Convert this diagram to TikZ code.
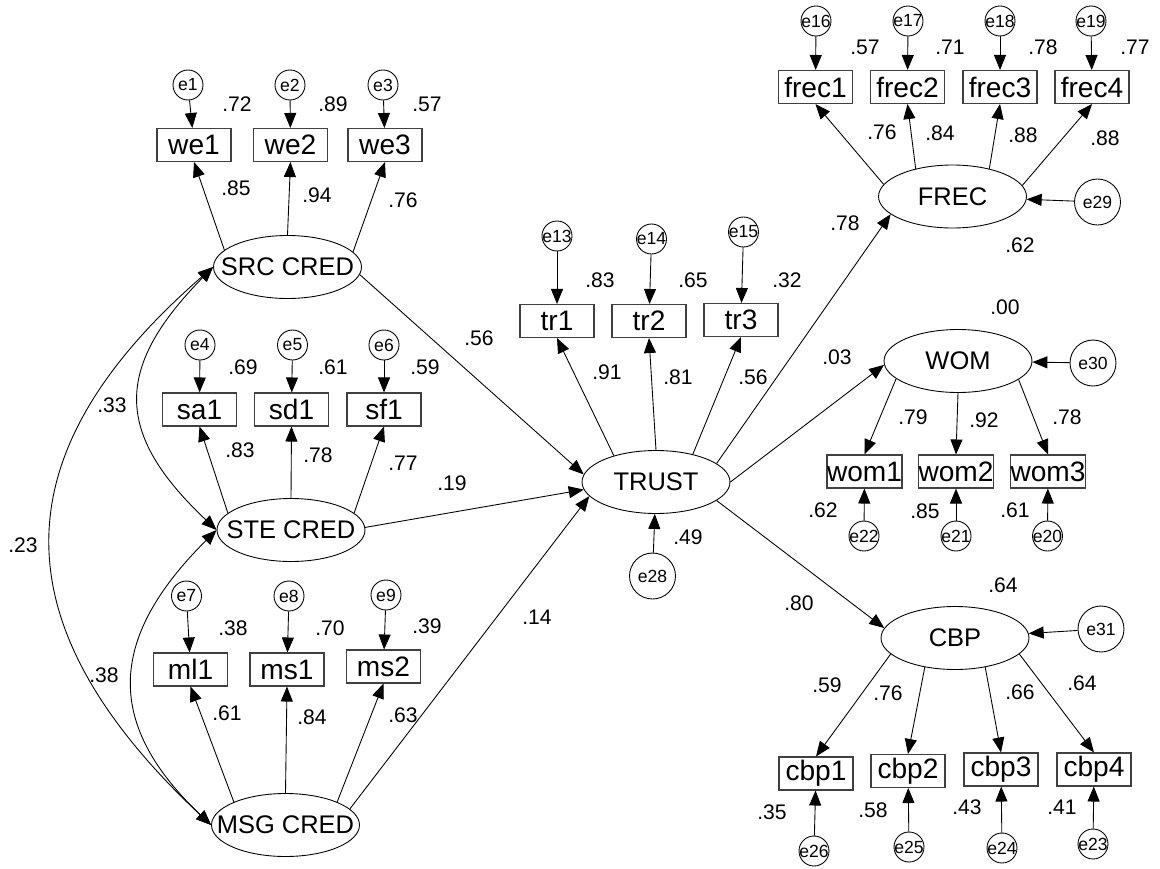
\documentclass[tikz,border=0pt]{standalone}
\usepackage{fontspec}
\setmainfont{Liberation Sans}
\usetikzlibrary{arrows.meta,shapes.geometric}
\definecolor{ink}{HTML}{000000}
\definecolor{boxline}{HTML}{404040}
\tikzset{
  obsbox/.style={rectangle,draw=boxline,line width=0.6pt,minimum width=1.48cm,minimum height=0.66cm,inner sep=0pt,font=\fontsize{16}{18}\selectfont},
  latent/.style={ellipse,draw=ink,line width=0.5pt,minimum width=2.96cm,minimum height=1.26cm,inner xsep=-20pt,inner ysep=0pt,font=\fontsize{14.5}{16}\selectfont},
  errsmall/.style={circle,draw=ink,line width=0.5pt,minimum size=0.6cm,inner sep=-2pt,font=\fontsize{10}{11}\selectfont},
  errbig/.style={errsmall,minimum size=0.92cm},
  coef/.style={inner sep=0pt,font=\fontsize{12}{13}\selectfont,text=ink},
  arrow/.style={-{Triangle[length=3mm,width=2.4mm]},line width=0.5pt,draw=ink},
  covarrow/.style={{Triangle[length=3mm,width=2.4mm]}-{Triangle[length=3mm,width=2.4mm]},line width=0.5pt,draw=ink}
}

\begin{document}
\begin{tikzpicture}[x=0.02cm,y=-0.02cm]
  \useasboundingbox (0,0) rectangle (1160,869);

  % source credibility block
  \node[errsmall] (e1) at (188,85) {e1};
  \node[errsmall] (e2) at (290,85) {e2};
  \node[errsmall] (e3) at (383,85) {e3};
  \node[obsbox] (we1) at (194,145) {we1};
  \node[obsbox] (we2) at (290.5,145) {we2};
  \node[obsbox] (we3) at (385,145) {we3};
  \node[latent] (src) at (287.5,267) {SRC CRED};

  \node[errsmall] (e4) at (200,345) {e4};
  \node[errsmall] (e5) at (292.5,345) {e5};
  \node[errsmall] (e6) at (384,345) {e6};
  \node[obsbox] (sa1) at (199.5,409.5) {sa1};
  \node[obsbox] (sd1) at (291.5,409.5) {sd1};
  \node[obsbox] (sf1) at (384,409.5) {sf1};
  \node[latent] (ste) at (291,530) {STE CRED};

  \node[errsmall] (e7) at (186.5,596) {e7};
  \node[errsmall] (e8) at (289,596) {e8};
  \node[errsmall] (e9) at (386,595) {e9};
  \node[obsbox] (ml1) at (190.5,669.5) {ml1};
  \node[obsbox] (ms1) at (287,669.5) {ms1};
  \node[obsbox] (ms2) at (383.5,666.5) {ms2};
  \node[latent] (msg) at (285.5,825) {MSG CRED};

  % trust block
  \node[errsmall] (e13) at (557,236) {e13};
  \node[errsmall] (e14) at (651.5,239) {e14};
  \node[errsmall] (e15) at (743.5,232) {e15};
  \node[obsbox] (tr1) at (557,321) {tr1};
  \node[obsbox] (tr2) at (649,321) {tr2};
  \node[obsbox] (tr3) at (741,320) {tr3};
  \node[latent] (trust) at (656,482) {TRUST};
  \node[errbig] (e28) at (652.5,576) {e28};

  % outcomes
  \node[errsmall] (e16) at (816,21) {e16};
  \node[errsmall] (e17) at (908,21) {e17};
  \node[errsmall] (e18) at (1000,21) {e18};
  \node[errsmall] (e19) at (1091,21) {e19};
  \node[obsbox] (frec1) at (815.5,87) {frec1};
  \node[obsbox] (frec2) at (907.5,87) {frec2};
  \node[obsbox] (frec3) at (1000,87) {frec3};
  \node[obsbox] (frec4) at (1092,87) {frec4};
  \node[latent] (frec) at (952.5,196.5) {FREC};
  \node[errbig] (e29) at (1097.5,202) {e29};

  \node[latent] (wom) at (958,361) {WOM};
  \node[errbig] (e30) at (1093,363) {e30};
  \node[obsbox] (wom1) at (864.5,471.5) {wom1};
  \node[obsbox] (wom2) at (956,471.5) {wom2};
  \node[obsbox] (wom3) at (1048,471.5) {wom3};
  \node[errsmall] (e22) at (864,536) {e22};
  \node[errsmall] (e21) at (956,536) {e21};
  \node[errsmall] (e20) at (1047.5,536) {e20};

  \node[latent] (cbp) at (955,638) {CBP};
  \node[errbig] (e31) at (1101,629) {e31};
  \node[obsbox] (cbp1) at (816,773.5) {cbp1};
  \node[obsbox] (cbp2) at (908,771) {cbp2};
  \node[obsbox] (cbp3) at (1001,769.5) {cbp3};
  \node[obsbox] (cbp4) at (1094,769.5) {cbp4};
  \node[errsmall] (e26) at (814,851) {e26};
  \node[errsmall] (e25) at (909,847) {e25};
  \node[errsmall] (e24) at (1002,848) {e24};
  \node[errsmall] (e23) at (1093,844) {e23};

  % errors into indicators
  \draw[arrow] (e1) -- (we1);
  \draw[arrow] (e2) -- (we2);
  \draw[arrow] (e3) -- (we3);
  \draw[arrow] (e4) -- (sa1);
  \draw[arrow] (e5) -- (sd1);
  \draw[arrow] (e6) -- (sf1);
  \draw[arrow] (e7) -- (ml1);
  \draw[arrow] (e8) -- (ms1);
  \draw[arrow] (e9) -- (ms2);
  \draw[arrow] (e13) -- (tr1);
  \draw[arrow] (e14) -- (tr2);
  \draw[arrow] (e15) -- (tr3);
  \draw[arrow] (e16) -- (frec1);
  \draw[arrow] (e17) -- (frec2);
  \draw[arrow] (e18) -- (frec3);
  \draw[arrow] (e19) -- (frec4);
  \draw[arrow] (e22) -- (wom1);
  \draw[arrow] (e21) -- (wom2);
  \draw[arrow] (e20) -- (wom3);
  \draw[arrow] (e26) -- (cbp1);
  \draw[arrow] (e25) -- (cbp2);
  \draw[arrow] (e24) -- (cbp3);
  \draw[arrow] (e23) -- (cbp4);
  \draw[arrow] (e28) -- (trust);
  \draw[arrow] (e29) -- (frec);
  \draw[arrow] (e30) -- (wom);
  \draw[arrow] (e31) -- (cbp);

  % loadings
  \draw[arrow] (src.165) -- (we1.south);
  \draw[arrow] (src.90) -- (we2.south);
  \draw[arrow] (src.13) -- (we3.south);
  \draw[arrow] (ste.165) -- (sa1.south);
  \draw[arrow] (ste.90) -- (sd1.south);
  \draw[arrow] (ste.15) -- (sf1.south);
  \draw[arrow] (msg.156) -- (ml1.south);
  \draw[arrow] (msg.90) -- (ms1.south);
  \draw[arrow] (msg.24) -- (ms2.south);
  \draw[arrow] (trust.148) -- (tr1.south);
  \draw[arrow] (trust.90) -- (tr2.south);
  \draw[arrow] (trust.37) -- (tr3.south);
  \draw[arrow] (frec.170) -- (frec1.south);
  \draw[arrow] (frec.143.5) -- (frec2.south);
  \draw[arrow] (frec.37) -- (frec3.south);
  \draw[arrow] (frec.9) -- (frec4.south);
  \draw[arrow] (wom.196.5) -- (wom1.north);
  \draw[arrow] (wom.270) -- (wom2.north);
  \draw[arrow] (wom.343.5) -- (wom3.north);
  \draw[arrow] (cbp.194) -- (cbp1.north);
  \draw[arrow] (cbp.224) -- (cbp2.north);
  \draw[arrow] (cbp.316) -- (cbp3.north);
  \draw[arrow] (cbp.346) -- (cbp4.north);

  % structural paths
  \draw[arrow] (src.354) -- (trust.174);
  \draw[arrow] (ste.2) -- (trust.186);
  \draw[arrow] (msg.14.5) -- (trust.192);
  \draw[arrow] (trust.17) -- (frec.196);
  \draw[arrow] (trust.0) -- (wom.183);
  \draw[arrow] (trust.343) -- (cbp.172);

  % covariances
  \draw[covarrow] (src.west) .. controls (114,368) and (114,433) .. (ste.west);
  \draw[covarrow] (src.west) .. controls (-2,454) and (-2,625) .. (msg.west);
  \draw[covarrow] (ste.west) .. controls (106,640) and (106,725) .. (msg.west);

  % estimates
  \node[coef] (r-we1) at (237,104) {.72};
  \node[coef] (r-we2) at (333,104) {.89};
  \node[coef] (r-we3) at (427,104) {.57};
  \node[coef] (l-we1) at (236,188) {.85};
  \node[coef] (l-we2) at (317,195) {.94};
  \node[coef] (l-we3) at (403,200) {.76};
  \node[coef] (r-sa1) at (243,367) {.69};
  \node[coef] (r-sd1) at (333,367) {.61};
  \node[coef] (r-sf1) at (425,367) {.59};
  \node[coef] (l-sa1) at (240,450) {.83};
  \node[coef] (l-sd1) at (318,455) {.78};
  \node[coef] (l-sf1) at (403,463) {.77};
  \node[coef] (r-ml1) at (233,628) {.38};
  \node[coef] (r-ms1) at (330,628) {.70};
  \node[coef] (r-ms2) at (427,626) {.39};
  \node[coef] (l-ml1) at (227,713) {.61};
  \node[coef] (l-ms1) at (312,717) {.84};
  \node[coef] (l-ms2) at (403,715) {.63};
  \node[coef] (c-srcste) at (112,405) {.33};
  \node[coef] (c-srcmsg) at (23,545) {.23};
  \node[coef] (c-stemsg) at (104,675) {.38};
  \node[coef] (b-src) at (479,338) {.56};
  \node[coef] (b-ste) at (452,483) {.19};
  \node[coef] (b-msg) at (537,617) {.14};
  \node[coef] (r-tr1) at (600,280) {.83};
  \node[coef] (r-tr2) at (693,280) {.65};
  \node[coef] (r-tr3) at (787,280) {.32};
  \node[coef] (l-tr1) at (607,372) {.91};
  \node[coef] (l-tr2) at (678,377) {.81};
  \node[coef] (l-tr3) at (753,377) {.56};
  \node[coef] (r-trust) at (688,537) {.49};
  \node[coef] (r-frec1) at (865,47) {.57};
  \node[coef] (r-frec2) at (950,47) {.71};
  \node[coef] (r-frec3) at (1043,47) {.78};
  \node[coef] (r-frec4) at (1135,47) {.77};
  \node[coef] (l-frec1) at (882,132) {.76};
  \node[coef] (l-frec2) at (940,133) {.84};
  \node[coef] (l-frec3) at (1023,135) {.88};
  \node[coef] (l-frec4) at (1105,138) {.88};
  \node[coef] (b-frec) at (845,223) {.78};
  \node[coef] (r-frec) at (1020,245) {.62};
  \node[coef] (r-wom) at (1005,307) {.00};
  \node[coef] (b-wom) at (837,357) {.03};
  \node[coef] (l-wom1) at (913,417) {.79};
  \node[coef] (l-wom2) at (984,420) {.92};
  \node[coef] (l-wom3) at (1067,417) {.78};
  \node[coef] (r-wom1) at (823,510) {.62};
  \node[coef] (r-wom2) at (925,511) {.85};
  \node[coef] (r-wom3) at (1015,510) {.61};
  \node[coef] (b-cbp) at (799,603) {.80};
  \node[coef] (r-cbp) at (1003,585) {.64};
  \node[coef] (l-cbp1) at (827,685) {.59};
  \node[coef] (l-cbp2) at (888,693) {.76};
  \node[coef] (l-cbp3) at (1020,692) {.66};
  \node[coef] (l-cbp4) at (1082,683) {.64};
  \node[coef] (r-cbp1) at (772,812) {.35};
  \node[coef] (r-cbp2) at (873,810) {.58};
  \node[coef] (r-cbp3) at (967,807) {.43};
  \node[coef] (r-cbp4) at (1062,807) {.41};
\end{tikzpicture}
\end{document}
